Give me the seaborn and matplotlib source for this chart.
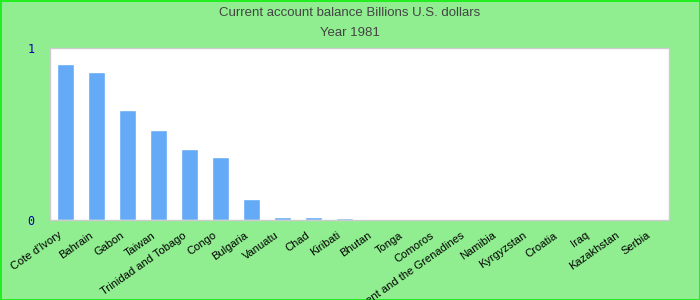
import matplotlib
matplotlib.use("Agg")
import matplotlib.pyplot as plt
import matplotlib.transforms as mtransforms
import seaborn as sns
import pandas as pd

countries = ["Cote d'Ivory", "Bahrain", "Gabon", "Taiwan", "Trinidad and Tobago", "Congo",
             "Bulgaria", "Vanuatu", "Chad", "Kiribati", "Bhutan", "Tonga", "Comoros",
             "Saint Vincent and the Grenadines", "Namibia", "Kyrgyzstan", "Croatia", "Iraq",
             "Kazakhstan", "Serbia"]
values = [0.907, 0.86, 0.64, 0.523, 0.413, 0.366, 0.122, 0.015, 0.015, 0.014, 0.008,
          0, 0, 0, 0, 0, 0, 0, 0, 0]
yticks = [0, 1]

df = pd.DataFrame({"country": countries, "value": values})

sns.set_style("white")
plt.rcParams['font.family'] = ['Liberation Sans', 'DejaVu Sans']

fig = plt.figure(figsize=(7, 3), dpi=100)
fig.patch.set_facecolor("#90ee90")
fig.patch.set_edgecolor("#22ee22")
fig.patch.set_linewidth(2)

ax = fig.add_axes([50/700, 80/300, 619/700, 172/300])
ax.set_facecolor("white")
sns.barplot(data=df, x="country", y="value", color="#64aaf6", saturation=1, width=0.55, ax=ax)

ax.set_ylim(0, 1)
ax.set_xlim(-0.5, len(countries) - 0.5)
ax.set_yticks(yticks)
ax.set_yticklabels([str(t) for t in yticks], color="#0000aa", fontsize=8.5,
                   family=["DejaVu Sans Mono"])
ax.tick_params(axis="y", length=0, pad=11)
ax.tick_params(axis="x", length=0, pad=3)
ax.set_xticks(range(len(countries)))
ax.set_xticklabels(countries, rotation=35, ha="right", rotation_mode="anchor", fontsize=8,
                   color="black")
offset = mtransforms.ScaledTranslation(-7/100, -6/100, fig.dpi_scale_trans)
for lab in ax.get_xticklabels():
    lab.set_transform(lab.get_transform() + offset)
ax.set_xlabel("")
ax.set_ylabel("")
for s in ax.spines.values():
    s.set_color("#cccccc")
    s.set_linewidth(1)

fig.text(0.5, 1 - 13/300, "Current account balance Billions U.S. dollars", ha="center", va="center",
         fontsize=9.5, color="#444444")
fig.text(0.5, 1 - 33/300, "Year 1981", ha="center", va="center", fontsize=9.5, color="#444444")

fig.savefig("out.png", dpi=100, facecolor=fig.get_facecolor(), edgecolor=fig.get_edgecolor())
